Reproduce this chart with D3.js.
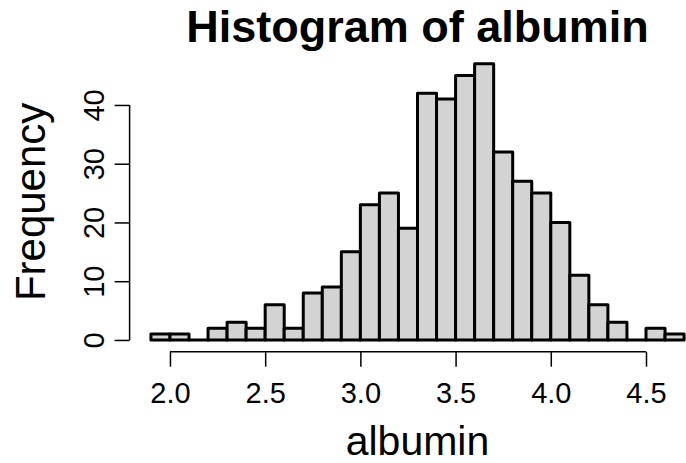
<!DOCTYPE html>
<html>
<head>
<meta charset="utf-8">
<script src="https://cdn.jsdelivr.net/npm/d3@7"></script>
<style>
  body { margin: 0; background: #fff; }
  svg { display: block; font-family: "Liberation Sans", Arial, Helvetica, sans-serif; }
</style>
</head>
<body>
<div class="hist-container"></div>
<script>
// bins of width 0.1, from 1.9 to 4.7
const binStarts = [1.9, 2.0, 2.1, 2.2, 2.3, 2.4, 2.5, 2.6, 2.7, 2.8, 2.9, 3.0, 3.1, 3.2,
                   3.3, 3.4, 3.5, 3.6, 3.7, 3.8, 3.9, 4.0, 4.1, 4.2, 4.3, 4.4, 4.5, 4.6];
const counts = [1, 1, 0, 2, 3, 2, 6, 2, 8, 9, 15, 23, 25, 19,
                42, 41, 45, 47, 32, 27, 25, 20, 11, 6, 3, 0, 2, 1];
const binWidth = 0.1;
const xTicks = [2.0, 2.5, 3.0, 3.5, 4.0, 4.5];
const yTicks = [0, 10, 20, 30, 40];

const svg_width = 686;
const svg_height = 463;

const svg = d3.select(".hist-container").append("svg")
    .attr("width", svg_width)
    .attr("height", svg_height);

// R style: extend range by 4%
const xLo = binStarts[0], xHi = binStarts[binStarts.length - 1] + binWidth;
const xPad = (xHi - xLo) * 0.04;
const yHi = d3.max(counts), yPad = yHi * 0.04;

const plot = { left: 129.6, right: 705.4, top: 52.8, bottom: 351 };

const xScale = d3.scaleLinear([xLo - xPad, xHi + xPad], [plot.left, plot.right]);
const yScale = d3.scaleLinear([-yPad, yHi + yPad], [plot.bottom, plot.top]);

const data = binStarts.map((b, i) => ({ x0: b, x1: b + binWidth, n: counts[i] }));

// bars (as closed paths so empty bins still show their outline)
svg.append("g").attr("class", "bars")
    .selectAll("path").data(data).join("path")
    .attr("d", d => {
        const l = xScale(d.x0), r = xScale(d.x1), t = yScale(d.n), b = yScale(0);
        return `M${l},${b}L${l},${t}L${r},${t}L${r},${b}Z`;
    })
    .style("fill", "#d3d3d3")
    .style("stroke", "#000")
    .style("stroke-width", 3)
    .style("stroke-linejoin", "round");

// x axis
const xAxis = d3.axisBottom(xScale)
    .tickValues(xTicks)
    .tickFormat(d3.format(".1f"))
    .tickSizeInner(15)
    .tickSizeOuter(0);
const xAxisDraw = svg.append("g").attr("class", "x axis")
    .attr("transform", `translate(0,${plot.bottom + 0.7})`)
    .call(xAxis);
xAxisDraw.select(".domain").remove();
xAxisDraw.append("line")
    .attr("x1", xScale(xTicks[0])).attr("x2", xScale(xTicks[xTicks.length - 1]))
    .attr("stroke", "#000");
xAxisDraw.selectAll("line").attr("stroke-width", 1.5);
xAxisDraw.selectAll("text")
    .attr("y", 51).attr("dy", null)
    .style("font-size", "29px")
    .style("font-family", "inherit")
    .attr("fill", "#000");

// y axis
const yAxis = d3.axisLeft(yScale)
    .tickValues(yTicks)
    .tickSizeInner(15)
    .tickSizeOuter(0);
const yAxisDraw = svg.append("g").attr("class", "y axis")
    .attr("transform", `translate(${plot.left},0)`)
    .call(yAxis);
yAxisDraw.select(".domain").remove();
yAxisDraw.append("line")
    .attr("y1", yScale(yTicks[0])).attr("y2", yScale(yTicks[yTicks.length - 1]))
    .attr("stroke", "#000");
yAxisDraw.selectAll("line").attr("stroke-width", 1.5);
yAxisDraw.selectAll(".tick text")
    .attr("x", null).attr("dy", null)
    .attr("transform", "translate(-25.6,0) rotate(-90)")
    .attr("text-anchor", "middle")
    .style("font-size", "29px")
    .style("font-family", "inherit")
    .attr("fill", "#000");

// titles
const midX = (plot.left + plot.right) / 2;
svg.append("text")
    .attr("x", midX).attr("y", 42)
    .attr("text-anchor", "middle")
    .style("font-size", "45px").style("font-weight", "bold")
    .text("Histogram of albumin");

svg.append("text")
    .attr("x", midX).attr("y", 455)
    .attr("text-anchor", "middle")
    .style("font-size", "41px")
    .text("albumin");

svg.append("text")
    .attr("transform", `translate(45,${(plot.top + plot.bottom) / 2}) rotate(-90)`)
    .attr("text-anchor", "middle")
    .style("font-size", "42px")
    .text("Frequency");
</script>
</body>
</html>
